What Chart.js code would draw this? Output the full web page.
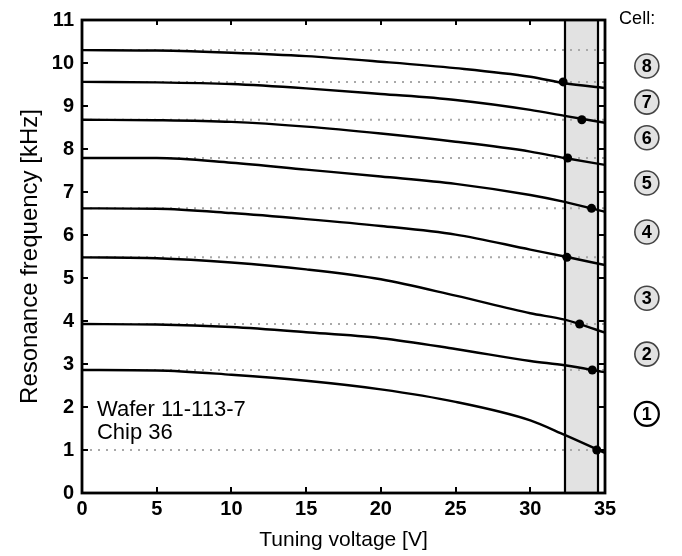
<!DOCTYPE html>
<html>
<head>
<meta charset="utf-8">
<script src="https://cdn.jsdelivr.net/npm/chart.js"></script>
<style>
html,body{margin:0;padding:0;background:#fff}
#wrap{width:682px;height:556px}
</style>
</head>
<body>
<div id="wrap"><canvas id="chart" width="682" height="556"></canvas></div>
<script>
/* ---------- DATA ---------- */
const voltages=[0,5,10,15,20,25,30,32.3,35];
const cell1=[2.86,2.85,2.75,2.61,2.41,2.12,1.69,1.35,0.93];
const cell2=[3.93,3.92,3.86,3.74,3.60,3.35,3.07,2.97,2.81];
const cell3=[5.48,5.46,5.36,5.20,4.97,4.59,4.18,4.03,3.73];
const cell4=[6.62,6.61,6.51,6.37,6.21,6.01,5.66,5.50,5.30];
const cell5=[7.79,7.79,7.68,7.52,7.36,7.19,6.93,6.77,6.54];
const cell6=[8.68,8.67,8.63,8.52,8.36,8.17,7.94,7.79,7.63];
const cell7=[9.56,9.55,9.51,9.41,9.28,9.14,8.91,8.77,8.61];
const cell8=[10.30,10.29,10.24,10.16,10.03,9.88,9.68,9.53,9.42];
const cells=[cell1,cell2,cell3,cell4,cell5,cell6,cell7,cell8];
const cellNames=["1","2","3","4","5","6","7","8"];
// target frequency levels (dotted) and the voltage where each cell hits its target
const targetLevels=[1.0,2.86,3.93,5.48,6.62,7.79,8.68,9.56,10.30];
const targetVoltages=[34.45,34.15,33.3,32.45,34.1,32.5,33.45,32.2];
const xTicks=[0,5,10,15,20,25,30,35];
const yTicks=[0,1,2,3,4,5,6,7,8,9,10,11];
const bandStart=32.3,bandEnd=34.5;
const cellLabelX=37.8;
const cellLabelY=[1.84,3.23,4.53,6.07,7.21,8.26,9.09,9.93];
const noteLines=["Wafer 11-113-7","Chip 36"];
const noteX=1.0,noteY=[1.93,1.40];

const FONT="'Liberation Sans', Arial, sans-serif";

/* ---------- FRAME / BAND / LABELS ---------- */
const cellFrame={
  id:"cellFrame",
  beforeDatasetsDraw(chart){
    const {ctx,chartArea:a,scales:{x}}=chart;
    const x0=x.getPixelForValue(bandStart),x1=x.getPixelForValue(bandEnd);
    ctx.save();ctx.fillStyle="#e2e2e2";
    ctx.fillRect(x0,a.top,x1-x0,a.bottom-a.top);ctx.restore();
  },
  afterDatasetsDraw(chart){
    const {ctx,chartArea:a,scales:{x,y}}=chart;
    ctx.save();
    ctx.strokeStyle="#000";ctx.lineWidth=2.2;
    // band edges
    [bandStart,bandEnd].forEach(v=>{const px=Math.round(x.getPixelForValue(v));
      ctx.beginPath();ctx.moveTo(px,a.top);ctx.lineTo(px,a.bottom);ctx.stroke();});
    // inward ticks
    const xe=x.getPixelForValue(bandEnd);
    ctx.lineWidth=2;
    xTicks.slice(1,-1).forEach(v=>{const px=Math.round(x.getPixelForValue(v));
      ctx.beginPath();ctx.moveTo(px,a.bottom);ctx.lineTo(px,a.bottom-6);
      ctx.moveTo(px,a.top);ctx.lineTo(px,a.top+5);ctx.stroke();});
    yTicks.slice(1,-1).forEach(v=>{const py=Math.round(y.getPixelForValue(v));
      ctx.beginPath();ctx.moveTo(a.left,py);ctx.lineTo(a.left+6,py);
      ctx.moveTo(xe,py);ctx.lineTo(a.right,py);ctx.stroke();});
    // outer frame
    ctx.lineWidth=2.8;ctx.strokeRect(a.left,a.top,a.right-a.left,a.bottom-a.top);
    // note text
    ctx.fillStyle="#000";ctx.font="22px "+FONT;ctx.textAlign="left";ctx.textBaseline="middle";
    noteLines.forEach((t,i)=>ctx.fillText(t,x.getPixelForValue(noteX),y.getPixelForValue(noteY[i])));
    // cell badges
    ctx.textAlign="center";ctx.font="18px "+FONT;
    ctx.fillText("Cell:",x.getPixelForValue(37.15),y.getPixelForValue(11.02));
    cellNames.forEach((n,i)=>{
      const cx=x.getPixelForValue(cellLabelX),cy=y.getPixelForValue(cellLabelY[i]);
      ctx.beginPath();ctx.arc(cx,cy,12,0,Math.PI*2);
      ctx.fillStyle=i===0?"#fff":"#e2e2e2";ctx.fill();
      ctx.lineWidth=i===0?2.2:1.6;ctx.strokeStyle=i===0?"#000":"#444";ctx.stroke();
      ctx.fillStyle="#000";ctx.font="bold 18px "+FONT;ctx.fillText(n,cx,cy+1);
    });
    ctx.restore();
  }
};

/* ---------- DATASETS ---------- */
const dotSet={type:"scatter",data:targetVoltages.map((v,i)=>({x:v,y:targetLevels[i]})),
  pointRadius:4.5,pointBackgroundColor:"#000",pointBorderWidth:0,showLine:false};
const curveSets=cells.map(c=>({data:voltages.map((v,i)=>({x:v,y:c[i]})),
  borderColor:"#000",borderWidth:2.4,pointRadius:0,cubicInterpolationMode:"monotone"}));
const levelSets=targetLevels.map(l=>({data:[{x:0,y:l},{x:35,y:l}],
  borderColor:"#a8a8a8",borderWidth:2,borderDash:[2,6],pointRadius:0}));

/* ---------- CHART ---------- */
new Chart(document.getElementById("chart"),{
  type:"line",
  data:{datasets:[dotSet,...curveSets,...levelSets]},
  options:{
    responsive:false,animation:false,
    layout:{padding:{top:20,right:77,left:0,bottom:0}},
    plugins:{legend:{display:false},tooltip:{enabled:false}},
    scales:{
      x:{type:"linear",min:0,max:35,
        afterBuildTicks:s=>{s.ticks=xTicks.map(v=>({value:v}));},
        afterFit:s=>{s.height=63;},
        grid:{display:false,tickLength:0},border:{display:false},
        ticks:{color:"#000",padding:4,font:{family:FONT,size:20,weight:"bold"}},
        title:{display:true,text:"Tuning voltage [V]",color:"#000",padding:{top:0,bottom:3},font:{family:FONT,size:21}}},
      y:{type:"linear",min:0,max:11,
        afterBuildTicks:s=>{s.ticks=yTicks.map(v=>({value:v}));},
        afterFit:s=>{s.width=82;},
        grid:{display:false,tickLength:0},border:{display:false},
        ticks:{color:"#000",padding:8,font:{family:FONT,size:20,weight:"bold"}},
        title:{display:true,text:"Resonance frequency [kHz]",color:"#000",padding:{top:16,bottom:0},font:{family:FONT,size:24}}}
    }
  },
  plugins:[cellFrame]
});
</script>
</body>
</html>
